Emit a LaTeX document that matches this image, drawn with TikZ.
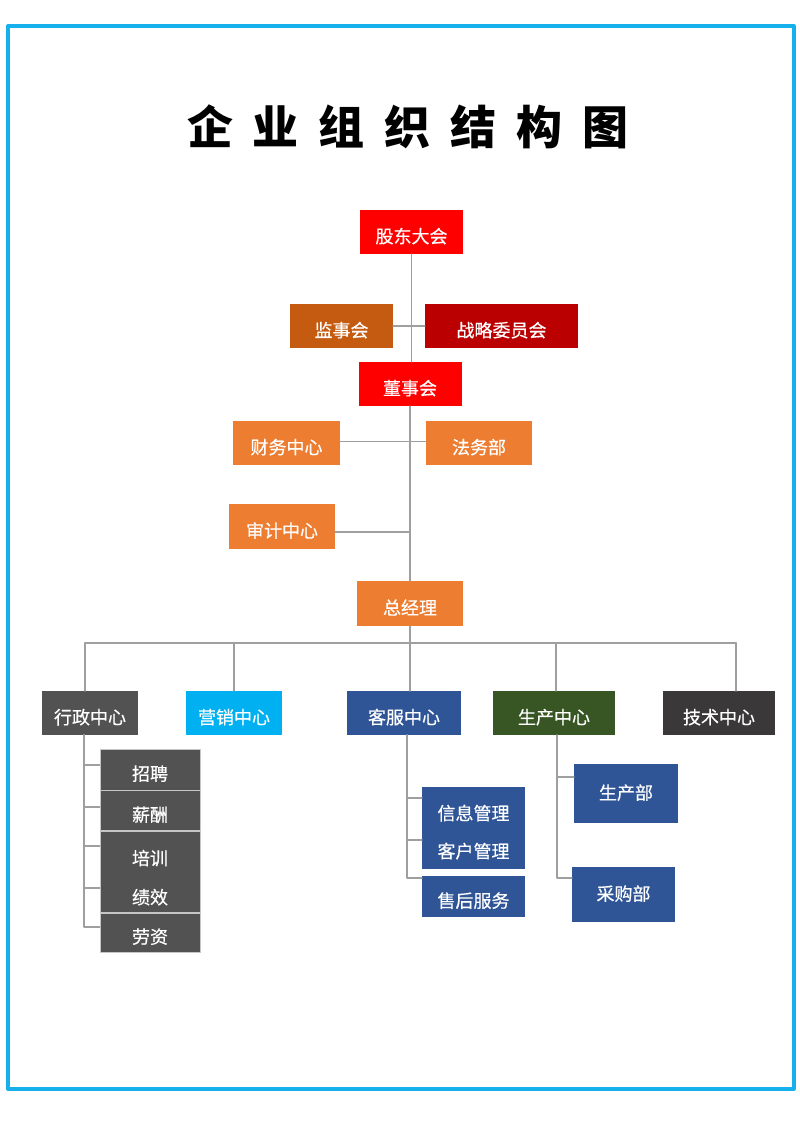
\documentclass[tikz,border=0pt]{standalone}
\usepackage{fontspec}
\newfontfamily\cjk{Noto Sans CJK SC}
\newfontfamily\cjkm[FakeBold=0.5]{Noto Sans CJK SC}
\definecolor{framecyan}{RGB}{22,176,236}
\definecolor{redA}{HTML}{FF0000}
\definecolor{redB}{HTML}{BA0000}
\definecolor{brownA}{HTML}{C55A11}
\definecolor{orangeA}{HTML}{ED7D31}
\definecolor{grayA}{HTML}{525252}
\definecolor{grayB}{HTML}{3A3838}
\definecolor{cyanA}{HTML}{00B0F0}
\definecolor{blueA}{HTML}{2F5597}
\definecolor{greenA}{HTML}{375623}
\newcommand\tsp{\hspace{20pt}}
\begin{document}
\begin{tikzpicture}[x=1pt,y=-1pt,line join=round,line cap=round,
	box/.style={rectangle,fill=#1,text=white,inner sep=0pt,minimum height=44,
		font=\cjkm\fontsize{18}{18}\selectfont,text height=22pt,text depth=0pt},
	boxc/.style={box=#1,text height=15pt,text depth=3pt},
	sub/.style={box=grayA,draw=gray!45,line width=0.8,minimum width=100},
	lbl/.style={text=white,inner sep=0pt,font=\cjkm\fontsize{18}{18}\selectfont,text height=22pt,text depth=0pt},
	link/.style={draw=gray!75,line width=1.8}]
	\useasboundingbox (0,0) rectangle (800,1132);
	\draw[framecyan,line width=4] (8,26) rectangle (793.5,1089);
	\node (title) at (408,127) {\cjk\bfseries\fontsize{46}{46}\selectfont 企\tsp 业\tsp 组\tsp 织\tsp 结\tsp 构\tsp 图};
	\node[box=redA,minimum width=103] (gddh) at (411.5,232) {股东大会};
	\node[box=brownA,minimum width=103] (jsh) at (341.5,326) {监事会};
	\node[box=redB,minimum width=153] (zlwyh) at (501.5,326) {战略委员会};
	\node[box=redA,minimum width=103] (dsh) at (410,384) {董事会};
	\node[box=orangeA,minimum width=107] (cwzx) at (286.5,443) {财务中心};
	\node[box=orangeA,minimum width=106] (fwb) at (479,443) {法务部};
	\node[box=orangeA,minimum width=106,minimum height=45] (sjzx) at (282,526.5) {审计中心};
	\node[box=orangeA,minimum width=106,minimum height=45] (zjl) at (410,603.5) {总经理};
	\node[box=grayA,minimum width=96] (xzzx) at (90,713) {行政中心};
	\node[box=cyanA,minimum width=96] (yxzx) at (234,713) {营销中心};
	\node[box=blueA,minimum width=114] (kfzx) at (404,713) {客服中心};
	\node[box=greenA,minimum width=122] (sczx) at (554,713) {生产中心};
	\node[box=grayB,minimum width=112] (jszx) at (719,713) {技术中心};
	\node[sub,minimum height=41] (zp) at (150,769.5) {招聘};
	\node[sub,minimum height=40] (xc) at (150,810.5) {薪酬};
	\node[sub,minimum height=81] (pxjx) at (150,871.5) {};
	\node[lbl] (px) at ([yshift=17.5pt]pxjx.center) {培训};
	\node[lbl] (jx) at ([yshift=-21.5pt]pxjx.center) {绩效};
	\node[sub,minimum height=39] (lz) at (150,932.5) {劳资};
	\node[box=blueA,minimum width=103,minimum height=82] (xxkh) at (473.5,828) {};
	\node[lbl] (xxgl) at ([yshift=19pt]xxkh.center) {信息管理};
	\node[lbl] (khgl) at ([yshift=-19pt]xxkh.center) {客户管理};
	\node[box=blueA,minimum width=103,minimum height=41] (shfw) at (473.5,896.5) {售后服务};
	\node[boxc=blueA,minimum width=104,minimum height=59] (scb) at (626,793.5) {生产部};
	\node[boxc=blueA,minimum width=103,minimum height=55] (cgb) at (623.5,894.5) {采购部};
	\draw[link] (gddh.south) -- (gddh.south |- dsh.north);
	\draw[link] (jsh.east) -- (zlwyh.west);
	\draw[link] (dsh.south) -- (dsh.south |- zjl.north);
	\draw[link] ([yshift=1.5pt]cwzx.east) -- ([yshift=1.5pt]fwb.west);
	\draw[link] ([yshift=-5.5pt]sjzx.east) -- ([yshift=-5.5pt]sjzx.east -| dsh.south);
	\coordinate (b1) at (85,643);
	\coordinate (b2) at (234,643);
	\coordinate (b3) at (410,643);
	\coordinate (b4) at (556,643);
	\coordinate (b5) at (736,643);
	\draw[link] (zjl.south) -- (zjl.south |- b3);
	\draw[link] (b1) -- (b5);
	\foreach \c/\n in {b1/xzzx,b2/yxzx,b3/kfzx,b4/sczx,b5/jszx}
		\draw[link] (\c) -- (\c |- \n.north);
	\coordinate (xzt) at ([xshift=-6pt]xzzx.south);
	\coordinate (kft) at ([xshift=3pt]kfzx.south);
	\coordinate (sct) at ([xshift=3pt]sczx.south);
	\foreach \n/\s in {zp/4.5,xc/3.5,pxjx/25.5,pxjx/-16.5,lz/5.5}
		\draw[link] (xzt) |- ([yshift=\s pt]\n.west);
	\foreach \n/\s in {xxkh/30,xxkh/-12,shfw/18.5}
		\draw[link] (kft) |- ([yshift=\s pt]\n.west);
	\foreach \n/\s in {scb/16.5,cgb/16.5}
		\draw[link] (sct) |- ([yshift=\s pt]\n.west);
\end{tikzpicture}
\end{document}
